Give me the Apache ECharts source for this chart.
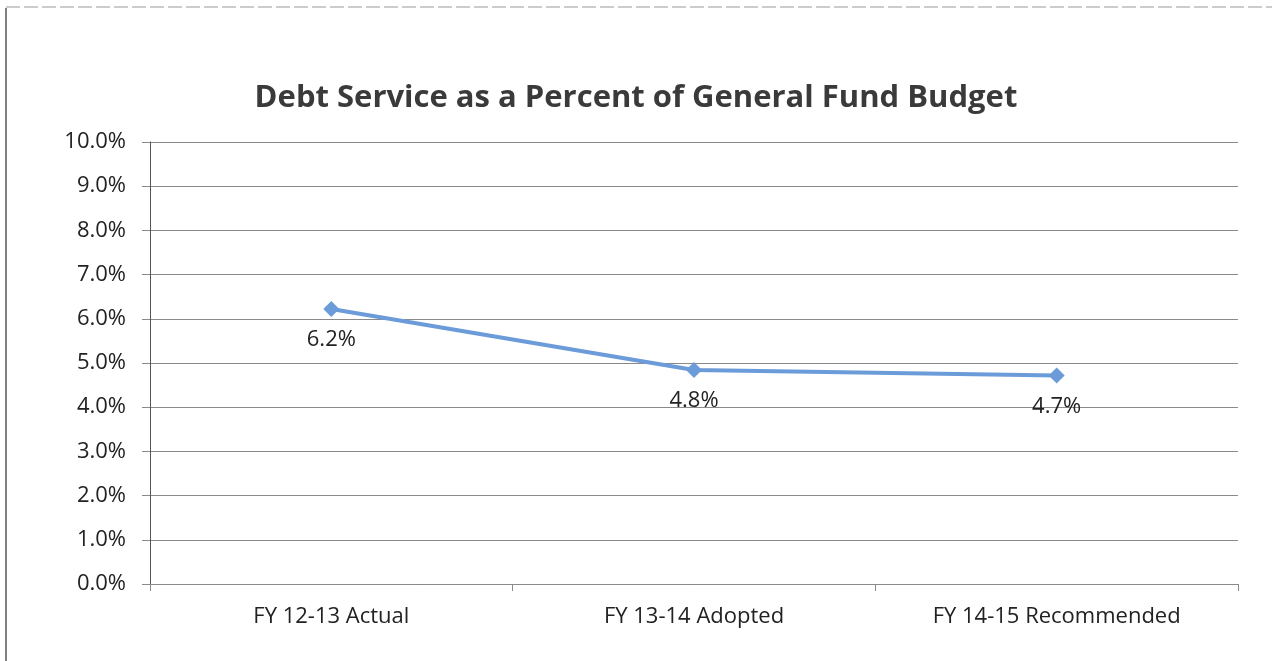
<!DOCTYPE html>
<html lang="en" style="height: 100%">
<head>
  <meta charset="utf-8">
  <script type="text/javascript" src="https://cdn.jsdelivr.net/npm/echarts@6/dist/echarts.min.js"></script>
</head>
<body style="height: 100%; margin: 0; background: #fff">
  <div id="main" style="height: 661px; width: 1272px"></div>
  <script type="text/javascript">
    var categories = ['FY 12-13 Actual', 'FY 13-14 Adopted', 'FY 14-15 Recommended'];
    var debtPct = [6.22, 4.84, 4.72];
    var dataLabels = ['6.2%', '4.8%', '4.7%'];

    var chart = echarts.init(document.getElementById('main'));
    var font = "'Open Sans', 'Noto Sans', sans-serif";
    var gridColor = '#8a8a8a';

    var option = {
      backgroundColor: '#fff',
      animation: false,
      title: {
        text: 'Debt Service as a Percent of General Fund Budget',
        left: 'center',
        top: 78,
        textStyle: { fontFamily: font, fontSize: 31, fontWeight: 'bold', color: '#3a3a3a' }
      },
      graphic: [
        { type: 'line', shape: { x1: 6, y1: 8, x2: 6, y2: 661 }, style: { stroke: '#555', lineWidth: 1.5 } },
        { type: 'line', shape: { x1: 6, y1: 7, x2: 1272, y2: 7 }, style: { stroke: '#999', lineWidth: 1, lineDash: [14, 4] } }
      ],
      grid: { left: 150, right: 34, top: 142, bottom: 77 },
      xAxis: {
        type: 'category',
        data: categories,
        boundaryGap: true,
        axisLine: { lineStyle: { color: gridColor, width: 1 } },
        axisTick: { show: true, length: 7, lineStyle: { color: gridColor } },
        axisLabel: { fontFamily: font, fontSize: 22, color: '#222', margin: 22 }
      },
      yAxis: {
        type: 'value',
        min: 0,
        max: 10,
        interval: 1,
        axisLine: { show: true, lineStyle: { color: '#555', width: 1 } },
        axisTick: { show: true, length: 8, lineStyle: { color: gridColor } },
        splitLine: { lineStyle: { color: gridColor, width: 1 } },
        axisLabel: {
          fontFamily: font, fontSize: 22, color: '#222', margin: 24,
          formatter: function (v) { return v.toFixed(1) + '%'; }
        }
      },
      series: [{
        type: 'line',
        data: debtPct,
        symbol: 'diamond',
        symbolSize: 16,
        lineStyle: { color: '#6b9bd8', width: 4 },
        itemStyle: { color: '#6b9bd8' },
        label: {
          show: true,
          position: 'bottom',
          distance: 12,
          fontFamily: font,
          fontSize: 22,
          color: '#222',
          formatter: function (p) { return dataLabels[p.dataIndex]; }
        }
      }]
    };

    chart.setOption(option);
  </script>
</body>
</html>
